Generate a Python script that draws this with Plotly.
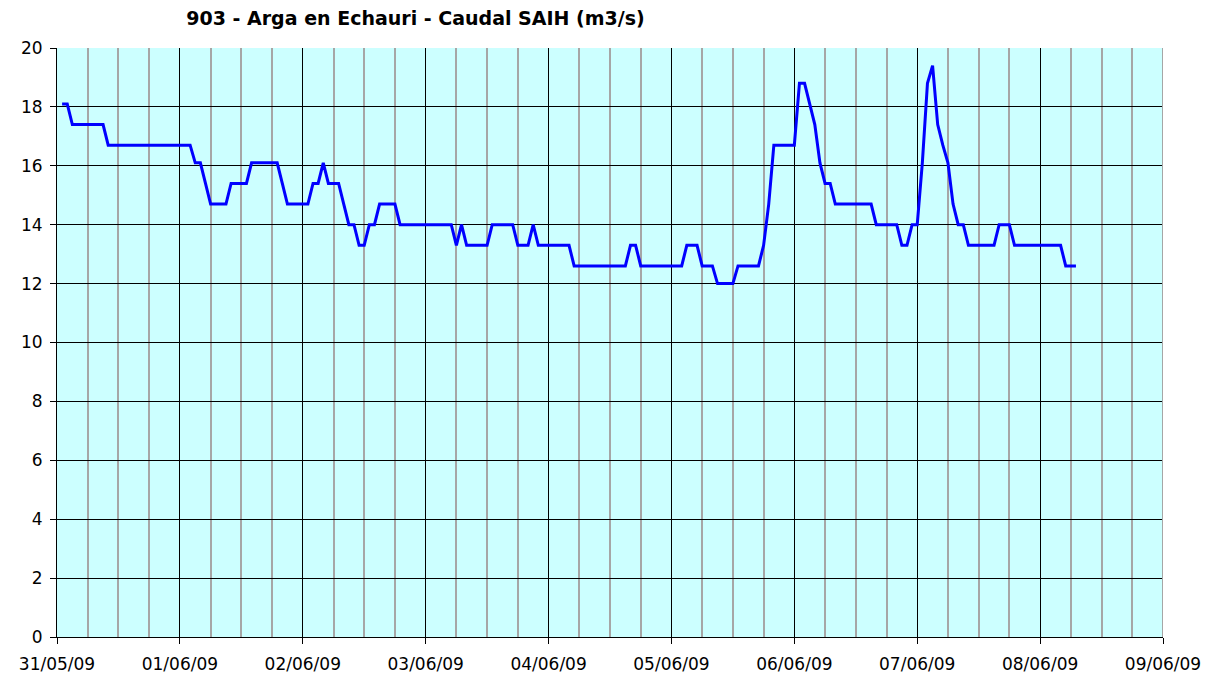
import pandas as pd
import plotly.graph_objects as go

title_text = "903 - Arga en Echauri - Caudal SAIH (m3/s)"
start_time = "2009-05-31 01:00"

# hourly flow readings (m3/s)
caudal = [
    18.1, 18.1, 17.4, 17.4, 17.4, 17.4, 17.4, 17.4, 17.4, 16.7,
    16.7, 16.7, 16.7, 16.7, 16.7, 16.7, 16.7, 16.7, 16.7, 16.7,
    16.7, 16.7, 16.7, 16.7, 16.7, 16.7, 16.1, 16.1, 15.4, 14.7,
    14.7, 14.7, 14.7, 15.4, 15.4, 15.4, 15.4, 16.1, 16.1, 16.1,
    16.1, 16.1, 16.1, 15.4, 14.7, 14.7, 14.7, 14.7, 14.7, 15.4,
    15.4, 16.1, 15.4, 15.4, 15.4, 14.7, 14.0, 14.0, 13.3, 13.3,
    14.0, 14.0, 14.7, 14.7, 14.7, 14.7, 14.0, 14.0, 14.0, 14.0,
    14.0, 14.0, 14.0, 14.0, 14.0, 14.0, 14.0, 13.3, 14.0, 13.3,
    13.3, 13.3, 13.3, 13.3, 14.0, 14.0, 14.0, 14.0, 14.0, 13.3,
    13.3, 13.3, 14.0, 13.3, 13.3, 13.3, 13.3, 13.3, 13.3, 13.3,
    12.6, 12.6, 12.6, 12.6, 12.6, 12.6, 12.6, 12.6, 12.6, 12.6,
    12.6, 13.3, 13.3, 12.6, 12.6, 12.6, 12.6, 12.6, 12.6, 12.6,
    12.6, 12.6, 13.3, 13.3, 13.3, 12.6, 12.6, 12.6, 12.0, 12.0,
    12.0, 12.0, 12.6, 12.6, 12.6, 12.6, 12.6, 13.3, 14.7, 16.7,
    16.7, 16.7, 16.7, 16.7, 18.8, 18.8, 18.1, 17.4, 16.1, 15.4,
    15.4, 14.7, 14.7, 14.7, 14.7, 14.7, 14.7, 14.7, 14.7, 14.0,
    14.0, 14.0, 14.0, 14.0, 13.3, 13.3, 14.0, 14.0, 16.1, 18.8,
    19.4, 17.4, 16.7, 16.1, 14.7, 14.0, 14.0, 13.3, 13.3, 13.3,
    13.3, 13.3, 13.3, 14.0, 14.0, 14.0, 13.3, 13.3, 13.3, 13.3,
    13.3, 13.3, 13.3, 13.3, 13.3, 13.3, 12.6, 12.6, 12.6,
]

x_range = ["2009-05-31", "2009-06-09"]
y_range = [0, 20]

times = pd.date_range(start=start_time, periods=len(caudal), freq="h")

fig = go.Figure()
fig.add_trace(go.Scatter(
    x=times, y=caudal, mode="lines",
    line=dict(color="#0000FF", width=3),
    showlegend=False,
))

font_family = "DejaVu Sans"
W, H = 1213, 669  # page body has an 8px margin

fig.update_layout(
    width=W, height=H,
    margin=dict(l=49, r=58, t=40, b=40, autoexpand=False),
    paper_bgcolor="white",
    plot_bgcolor="#CCFFFF",
    title=dict(
        text=title_text,
        x=(415.5 - 8) / W, xref="container", xanchor="center",
        y=1 - (18 - 8) / H, yref="container", yanchor="middle",
        font=dict(family="DejaVu Sans", size=19, color="black", weight="bold"),
    ),
    xaxis=dict(
        type="date",
        range=x_range,
        dtick=86400000,
        tick0="2009-05-31",
        tickformat="%d/%m/%y",
        showgrid=True, gridcolor="black", gridwidth=1,
        minor=dict(dtick=6 * 3600000, showgrid=True, gridcolor="#A6A6A6", gridwidth=2, ticks=""),
        showline=True, linecolor="black", linewidth=1,
        ticks="outside", ticklen=6, tickcolor="black",
        ticklabelstandoff=6,
        tickfont=dict(family=font_family, size=17, color="black"),
        zeroline=False,
    ),
    yaxis=dict(
        range=y_range,
        dtick=2,
        showgrid=True, gridcolor="black", gridwidth=1,
        showline=True, linecolor="black", linewidth=1,
        ticks="outside", ticklen=6, tickcolor="black",
        ticklabelstandoff=4,
        tickfont=dict(family=font_family, size=17, color="black"),
        zeroline=False,
    ),
    shapes=[
        dict(type="line", xref="x", yref="paper", x0=x_range[1], x1=x_range[1], y0=0, y1=1,
             line=dict(color="#A6A6A6", width=2), layer="above"),
    ],
)

fig.write_html("out.html")
